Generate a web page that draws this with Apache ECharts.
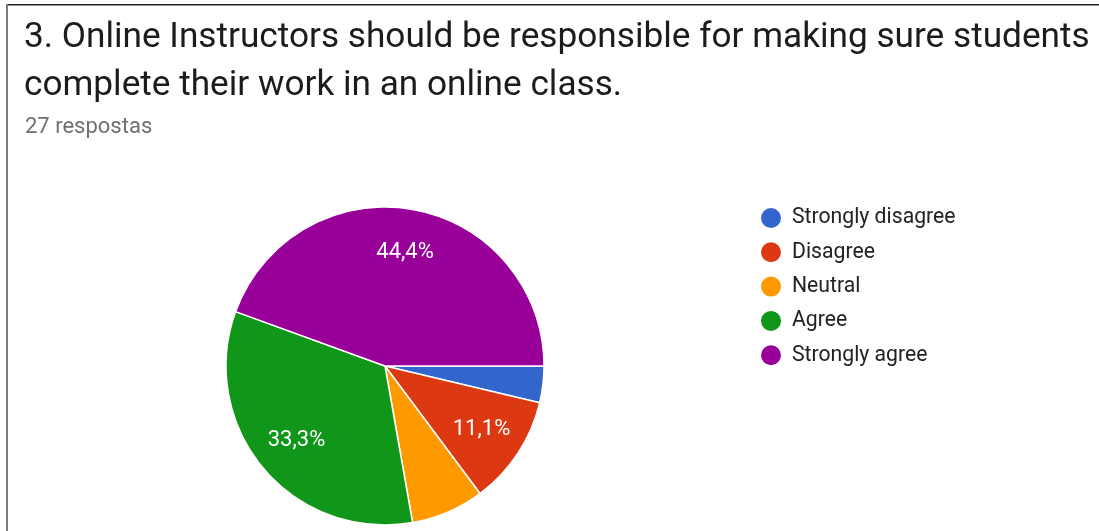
<!DOCTYPE html>
<html>
<head>
<meta charset="utf-8">
<script src="https://cdn.jsdelivr.net/npm/echarts@6/dist/echarts.min.js"></script>
<style>
html,body{margin:0;padding:0;background:#fff;}
#c{width:1099px;height:531px;}
</style>
</head>
<body>
<div id="c"></div>
<script>
const titleText = "3. Online Instructors should be responsible for making sure students\ncomplete their work in an online class.";
const subtitleText = "27 respostas";
const categories = ["Strongly disagree", "Disagree", "Neutral", "Agree", "Strongly agree"];
const counts = [1, 3, 2, 9, 12];
const colors = ["#3366cc", "#dc3912", "#ff9900", "#109618", "#990099"];

const total = counts.reduce((a, b) => a + b, 0);
const pct = v => (v / total * 100).toFixed(1).replace('.', ',') + '%';

const chart = echarts.init(document.getElementById('c'));
const center = [385, 366];
const R = 159;

chart.setOption({
  animation: false,
  color: colors,
  graphic: [
    { type: 'rect', shape: { x: 6, y: 4, width: 1093, height: 1.5 }, style: { fill: '#222' }, silent: true },
    { type: 'rect', shape: { x: 6, y: 4, width: 2, height: 527 }, style: { fill: '#7a7a7a' }, silent: true }
  ],
  title: [
    {
      text: titleText, left: 19, top: 9,
      textStyle: { fontFamily: 'Roboto', fontSize: 35.2, fontWeight: 'normal', color: '#1c1c1c', lineHeight: 48 }
    },
    {
      text: subtitleText, left: 20, top: 111,
      textStyle: { fontFamily: 'Roboto', fontSize: 22, fontWeight: 'normal', color: '#707070' }
    }
  ],
  legend: {
    orient: 'vertical', left: 754, top: 201,
    icon: 'circle', itemWidth: 22, itemHeight: 22, itemGap: 10.3,
    data: categories,
    textStyle: { fontFamily: 'Roboto', fontSize: 21.2, color: '#222', padding: [0, 0, 0, 5] }
  },
  series: [
    {
      type: 'pie', center: center, radius: [0, R],
      startAngle: 0, clockwise: true,
      label: { show: false }, labelLine: { show: false },
      itemStyle: { borderColor: '#fff', borderWidth: 1.5 },
      emphasis: { disabled: true },
      data: categories.map((n, i) => ({ name: n, value: counts[i] }))
    },
    {
      type: 'pie', center: center, radius: [66, R],
      startAngle: 0, clockwise: true, silent: true,
      legendHoverLink: false,
      itemStyle: { color: 'transparent', borderWidth: 0 },
      emphasis: { disabled: true },
      labelLine: { show: false },
      label: {
        show: true, position: 'inside',
        fontFamily: 'Roboto', fontSize: 22, color: '#fff',
        formatter: p => (p.value / total >= 0.1 ? pct(p.value) : '')
      },
      data: categories.map((n, i) => ({ name: n, value: counts[i] }))
    }
  ]
});
</script>
</body>
</html>
